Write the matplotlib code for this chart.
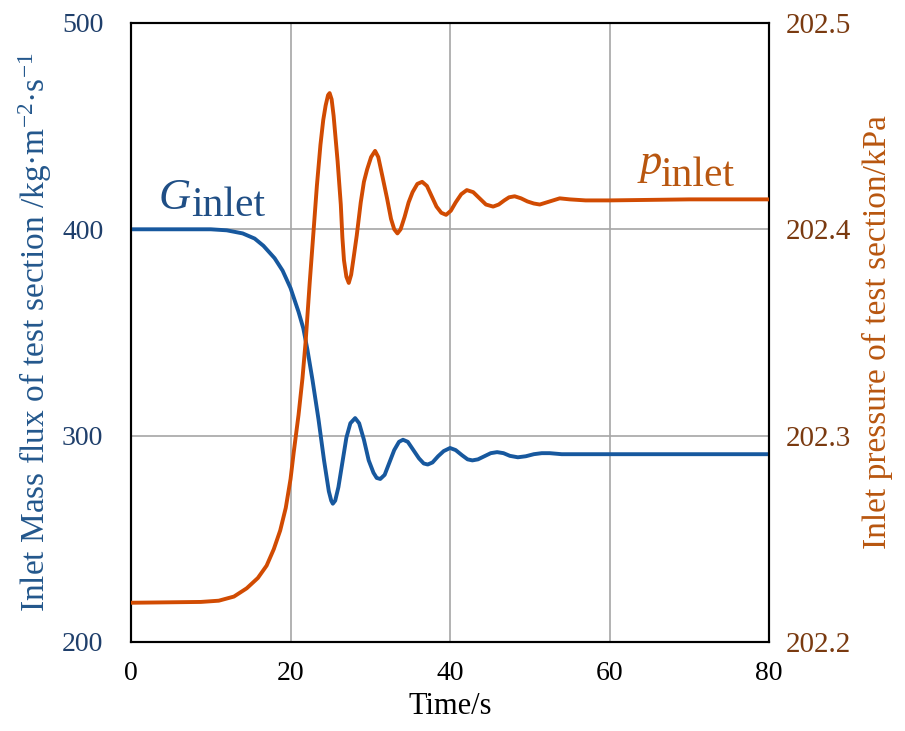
import numpy as np
import matplotlib.pyplot as plt

plt.rcParams['font.family'] = ['Liberation Serif', 'DejaVu Serif']
plt.rcParams['mathtext.fontset'] = 'custom'
plt.rcParams['mathtext.rm'] = 'Liberation Serif'
plt.rcParams['mathtext.it'] = 'Liberation Serif:italic'

# inlet mass flux G (kg m-2 s-1)
t_G = [0, 10, 12, 14, 15.5, 16.6, 18, 19, 20, 21, 21.6, 22.1, 22.75, 23.5, 24.2,
       24.8, 25.1, 25.3, 25.6, 26.0, 26.5, 27.0, 27.5, 28.1, 28.6, 29.2, 29.8,
       30.4, 30.8, 31.25, 31.8, 32.4, 33.0, 33.6, 34.1, 34.7, 35.4, 36.1, 36.7,
       37.2, 37.8, 38.5, 39.2, 40, 40.7, 41.5, 42.2, 42.8, 43.5, 44.3, 45.1,
       45.9, 46.7, 47.5, 48.5, 49.5, 50.5, 51.5, 52.5, 54, 56, 60, 80]
G = [400, 400, 399.5, 398, 395.5, 392, 386, 380, 371.5, 360, 352, 342, 327, 308, 288,
     273, 268.5, 267, 268.5, 275, 287, 299, 306, 308.5, 306, 298, 288,
     282, 279.5, 279, 281, 287, 293, 297, 298, 297, 293, 289, 286.5,
     286, 287, 290, 292.5, 294, 293, 290.5, 288.5, 288, 288.5, 290, 291.5,
     292, 291.5, 290.2, 289.5, 290, 291, 291.5, 291.5, 291, 291, 291, 291]

# inlet pressure p (kPa)
t_p = [0, 8.75, 11, 12.9, 14.5, 15.9, 17, 17.9, 18.7, 19.4, 20.0, 20.4, 21.0,
       21.5, 21.9, 22.4, 22.9, 23.3, 23.75, 24.1, 24.4, 24.7, 24.9, 25.15, 25.4,
       25.9, 26.3, 26.5, 26.7, 27.0, 27.3, 27.6, 27.9, 28.3, 28.8, 29.2, 29.6,
       30.1, 30.6, 31.0, 31.5, 32.1, 32.6, 33.0, 33.4, 33.8, 34.3, 34.8, 35.3,
       35.9, 36.5, 37.1, 37.7, 38.3, 38.9, 39.5, 40.1, 40.7, 41.4, 42.1, 42.9,
       43.7, 44.5, 45.4, 46.1, 46.8, 47.4, 48.1, 48.9, 49.7, 50.5, 51.25, 52.5,
       53.75, 55, 57, 60, 70, 80]
p = [202.219, 202.2194, 202.220, 202.222, 202.226, 202.231, 202.237, 202.245,
     202.254, 202.265, 202.279, 202.292, 202.310, 202.328, 202.346, 202.374,
     202.400, 202.421, 202.441, 202.453, 202.460, 202.465, 202.466, 202.463,
     202.455, 202.433, 202.412, 202.396, 202.385, 202.377, 202.374, 202.378,
     202.386, 202.397, 202.413, 202.423, 202.429, 202.435, 202.438, 202.435,
     202.426, 202.415, 202.405, 202.400, 202.398, 202.400, 202.406, 202.413,
     202.418, 202.422, 202.423, 202.421, 202.416, 202.411, 202.408, 202.407,
     202.409, 202.413, 202.417, 202.419, 202.418, 202.415, 202.412, 202.411,
     202.412, 202.414, 202.4155, 202.416, 202.415, 202.4135, 202.4125, 202.412,
     202.4135, 202.415, 202.4145, 202.414, 202.414, 202.4145, 202.4145]

x_ticks = [0, 20, 40, 60, 80]
G_ticks = [200, 300, 400, 500]
p_ticks = [202.2, 202.3, 202.4, 202.5]

c_blue = '#17589e'
c_orange = '#d14b02'
c_blue_txt = '#23578c'
c_orange_txt = '#b8560f'

fig = plt.figure(figsize=(9.05, 7.31), dpi=100)
ax = fig.add_axes([0.1448, 0.1218, 0.705, 0.8468])
ax2 = ax.twinx()

ax.plot(t_G, G, color=c_blue, lw=2.8, zorder=3, solid_joinstyle='round')
ax2.plot(t_p, p, color=c_orange, lw=2.8, zorder=3, solid_joinstyle='round')

ax.set_xlim(0, 80)
ax.set_ylim(200, 500)
ax2.set_ylim(202.2, 202.5)
ax.set_xticks(x_ticks)
ax.set_yticks(G_ticks)
ax2.set_yticks(p_ticks)
ax2.set_yticklabels([f'{v:.1f}' for v in p_ticks])

ax.grid(True, color='#a6a6a6', lw=1.2)
ax.set_axisbelow(True)

ax.tick_params(axis='x', length=0, pad=14, labelsize=20, colors='black')
ax.tick_params(axis='y', length=0, pad=20, labelsize=20, labelcolor='#1f3f6b')
ax2.tick_params(axis='y', length=0, pad=12, labelsize=21, labelcolor='#7a3a10')

for a in (ax, ax2):
    for s in a.spines.values():
        s.set_linewidth(1.5)
        s.set_color('black')

ax.set_xlabel('Time/s', fontsize=22, labelpad=4)
ax.set_ylabel('Inlet Mass flux of test section /kg·m$^{-2}$·s$^{-1}$',
              fontsize=24, color=c_blue_txt, labelpad=6)
ax2.set_ylabel('Inlet pressure of test section/kPa', fontsize=24,
               color=c_orange_txt, labelpad=8)

# curve labels
ax.text(3.5, 409.7, 'G', fontsize=32, style='italic', color='#1f4e85')
ax.text(7.5, 406.3, 'inlet', fontsize=30, color='#1f4e85')
ax2.text(63.75, 202.4267, 'p', fontsize=32, style='italic', color=c_orange_txt)
ax2.text(66.4, 202.4209, 'inlet', fontsize=30, color=c_orange_txt)

fig.savefig('out.png', dpi=100)
